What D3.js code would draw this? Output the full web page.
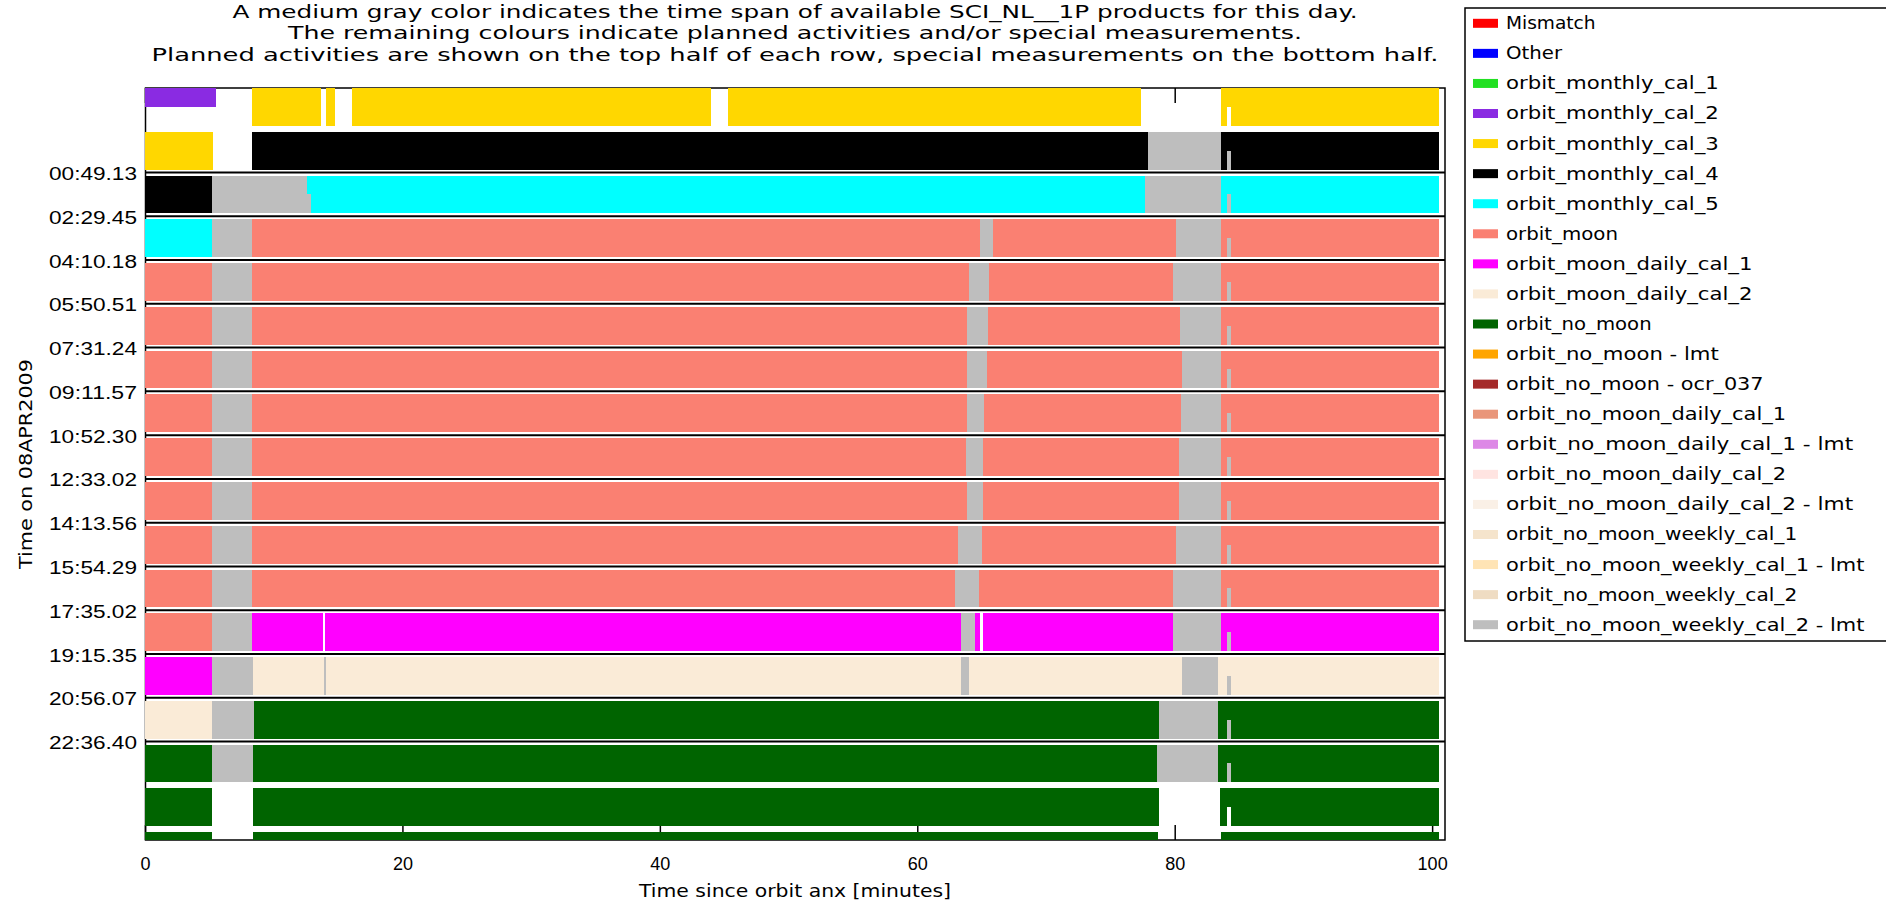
<!DOCTYPE html>
<html>
<head>
<meta charset="utf-8">
<script src="https://cdn.jsdelivr.net/npm/d3@7"></script>
<style>
  body { margin: 0; background: #fff; }
  svg { display: block; font-family: 'DejaVu Sans', sans-serif; }
</style>
</head>
<body>
<svg id="chart" width="1886" height="903"></svg>
<script>
const titleLines = [
    'A medium gray color indicates the time span of available SCI_NL__1P products for this day.',
    'The remaining colours indicate planned activities and/or special measurements.',
    'Planned activities are shown on the top half of each row, special measurements on the bottom half.'
];
const xTitle = 'Time since orbit anx [minutes]';
const yTitle = 'Time on 08APR2009';
const xTicks = [0, 20, 40, 60, 80, 100];
const yTickLabels = ['00:49.13', '02:29.45', '04:10.18', '05:50.51', '07:31.24', '09:11.57', '10:52.30',
    '12:33.02', '14:13.56', '15:54.29', '17:35.02', '19:15.35', '20:56.07', '22:36.40'];

const legendNames = ['Mismatch', 'Other', 'orbit_monthly_cal_1', 'orbit_monthly_cal_2', 'orbit_monthly_cal_3',
    'orbit_monthly_cal_4', 'orbit_monthly_cal_5', 'orbit_moon', 'orbit_moon_daily_cal_1', 'orbit_moon_daily_cal_2',
    'orbit_no_moon', 'orbit_no_moon - lmt', 'orbit_no_moon - ocr_037', 'orbit_no_moon_daily_cal_1',
    'orbit_no_moon_daily_cal_1 - lmt', 'orbit_no_moon_daily_cal_2', 'orbit_no_moon_daily_cal_2 - lmt',
    'orbit_no_moon_weekly_cal_1', 'orbit_no_moon_weekly_cal_1 - lmt', 'orbit_no_moon_weekly_cal_2',
    'orbit_no_moon_weekly_cal_2 - lmt'];
const legendColors = ['#ff0000', '#0000ff', '#22e022', '#8a2be2', '#ffd700', '#000000', '#00ffff', '#fa8072',
    '#ff00ff', '#faebd7', '#006400', '#ffa500', '#a52a2a', '#e9967a', '#dd88e6', '#ffe4e1', '#faf0e6',
    '#f5e4cc', '#ffe4b5', '#efdcc2', '#bebebe'];
const availColor = '#bebebe';

// orbit start times in minutes of the day (first two and last two rows are unlabelled)
const orbitPeriod = 100.57;
const rowStart = [-151.93, -51.36, 49.22, 149.75, 250.30, 350.85, 451.40, 551.95, 652.50, 753.03,
    853.93, 954.48, 1055.03, 1155.58, 1256.12, 1356.67, 1457.24, 1557.81];

const MC2 = 'orbit_monthly_cal_2', MC3 = 'orbit_monthly_cal_3', MC4 = 'orbit_monthly_cal_4',
    MC5 = 'orbit_monthly_cal_5', MOON = 'orbit_moon', MD1 = 'orbit_moon_daily_cal_1',
    MD2 = 'orbit_moon_daily_cal_2', NM = 'orbit_no_moon';

// gray: SCI_NL__1P products available [from, to] in minutes since anx
const availSpans = [
    [],
    [[77.95, 84.35]],
    [[5.2, 12.9], [77.7, 84.35]],
    [[5.2, 8.3], [64.9, 65.9], [80.1, 84.35]],
    [[5.2, 8.3], [64.0, 65.6], [79.9, 84.35]],
    [[5.2, 8.3], [63.9, 65.5], [80.4, 84.35]],
    [[5.2, 8.3], [63.9, 65.4], [80.6, 84.35]],
    [[5.2, 8.3], [63.9, 65.2], [80.5, 84.35]],
    [[5.2, 8.3], [63.8, 65.1], [80.3, 84.35]],
    [[5.2, 8.3], [63.9, 65.1], [80.3, 84.35]],
    [[5.2, 8.3], [63.2, 65.0], [80.1, 84.35]],
    [[5.2, 8.3], [62.9, 64.8], [79.9, 84.35]],
    [[5.2, 8.3], [63.4, 64.5], [79.9, 84.35]],
    [[5.2, 8.4], [13.9, 14.1], [63.4, 64.0], [80.6, 84.35]],
    [[5.2, 8.5], [78.8, 84.35]],
    [[5.2, 8.4], [78.6, 84.35]],
    [],
    []
];

// planned activities (top half of each row)
const plannedSegs = [
    [[0, 5.5, MC2], [8.3, 13.7, MC3], [14.1, 14.8, MC3], [16.1, 44.0, MC3], [45.3, 77.4, MC3], [83.6, 100.57, MC3]],
    [[0, 5.3, MC3], [8.3, 77.95, MC4], [83.58, 100.57, MC4]],
    [[0, 5.2, MC4], [12.6, 77.7, MC5], [83.58, 100.57, MC5]],
    [[0, 5.2, MC5], [8.3, 64.9, MOON], [65.9, 80.1, MOON], [83.58, 100.57, MOON]],
    [[0, 5.2, MOON], [8.3, 64.0, MOON], [65.6, 79.9, MOON], [83.58, 100.57, MOON]],
    [[0, 5.2, MOON], [8.3, 63.9, MOON], [65.5, 80.4, MOON], [83.58, 100.57, MOON]],
    [[0, 5.2, MOON], [8.3, 63.9, MOON], [65.4, 80.6, MOON], [83.58, 100.57, MOON]],
    [[0, 5.2, MOON], [8.3, 63.9, MOON], [65.2, 80.5, MOON], [83.58, 100.57, MOON]],
    [[0, 5.2, MOON], [8.3, 63.8, MOON], [65.1, 80.3, MOON], [83.58, 100.57, MOON]],
    [[0, 5.2, MOON], [8.3, 63.9, MOON], [65.1, 80.3, MOON], [83.58, 100.57, MOON]],
    [[0, 5.2, MOON], [8.3, 63.2, MOON], [65.0, 80.1, MOON], [83.58, 100.57, MOON]],
    [[0, 5.2, MOON], [8.3, 62.9, MOON], [64.8, 79.9, MOON], [83.58, 100.57, MOON]],
    [[0, 5.2, MOON], [8.3, 13.8, MD1], [14.0, 63.4, MD1], [64.5, 64.9, MD1], [65.1, 79.9, MD1], [83.58, 100.57, MD1]],
    [[0, 5.2, MD1], [8.4, 13.9, MD2], [14.1, 63.4, MD2], [64.0, 80.6, MD2], [83.4, 100.57, MD2]],
    [[0, 5.2, MD2], [8.5, 78.8, NM], [83.4, 100.57, NM]],
    [[0, 5.2, NM], [8.4, 78.6, NM], [83.4, 100.57, NM]],
    [[0, 5.2, NM], [8.4, 78.8, NM], [83.5, 100.57, NM]],
    [[0, 5.2, NM], [8.4, 78.7, NM], [83.6, 100.57, NM]]
];

// special measurements (bottom half of each row)
const specialSegs = [
    [[8.3, 13.7, MC3], [14.1, 14.8, MC3], [16.1, 44.0, MC3], [45.3, 77.4, MC3], [83.6, 84.1, MC3], [84.35, 100.57, MC3]],
    [[0, 5.3, MC3], [8.3, 77.95, MC4], [83.58, 84.1, MC4], [84.35, 100.57, MC4]],
    [[0, 5.2, MC4], [12.9, 77.7, MC5], [83.58, 84.1, MC5], [84.35, 100.57, MC5]],
    [[0, 5.2, MC5], [8.3, 64.9, MOON], [65.9, 80.1, MOON], [83.58, 84.1, MOON], [84.35, 100.57, MOON]],
    [[0, 5.2, MOON], [8.3, 64.0, MOON], [65.6, 79.9, MOON], [83.58, 84.1, MOON], [84.35, 100.57, MOON]],
    [[0, 5.2, MOON], [8.3, 63.9, MOON], [65.5, 80.4, MOON], [83.58, 84.1, MOON], [84.35, 100.57, MOON]],
    [[0, 5.2, MOON], [8.3, 63.9, MOON], [65.4, 80.6, MOON], [83.58, 84.1, MOON], [84.35, 100.57, MOON]],
    [[0, 5.2, MOON], [8.3, 63.9, MOON], [65.2, 80.5, MOON], [83.58, 84.1, MOON], [84.35, 100.57, MOON]],
    [[0, 5.2, MOON], [8.3, 63.8, MOON], [65.1, 80.3, MOON], [83.58, 84.1, MOON], [84.35, 100.57, MOON]],
    [[0, 5.2, MOON], [8.3, 63.9, MOON], [65.1, 80.3, MOON], [83.58, 84.1, MOON], [84.35, 100.57, MOON]],
    [[0, 5.2, MOON], [8.3, 63.2, MOON], [65.0, 80.1, MOON], [83.58, 84.1, MOON], [84.35, 100.57, MOON]],
    [[0, 5.2, MOON], [8.3, 62.9, MOON], [64.8, 79.9, MOON], [83.58, 84.1, MOON], [84.35, 100.57, MOON]],
    [[0, 5.2, MOON], [8.3, 13.8, MD1], [14.0, 63.4, MD1], [64.5, 64.9, MD1], [65.1, 79.9, MD1], [83.58, 84.1, MD1], [84.35, 100.57, MD1]],
    [[0, 5.2, MD1], [8.4, 13.9, MD2], [14.1, 63.4, MD2], [64.0, 80.6, MD2], [83.4, 84.1, MD2], [84.35, 100.57, MD2]],
    [[0, 5.2, MD2], [8.5, 78.8, NM], [83.4, 84.1, NM], [84.35, 100.57, NM]],
    [[0, 5.2, NM], [8.4, 78.6, NM], [83.4, 84.1, NM], [84.35, 100.57, NM]],
    [[0, 5.2, NM], [8.4, 78.8, NM], [83.5, 84.1, NM], [84.35, 100.57, NM]],
    [[0, 5.2, NM], [8.4, 78.7, NM], [83.6, 84.1, NM], [84.35, 100.57, NM]]
];

const plot = { left: 145, right: 1445, top: 88, bottom: 840 };
const svg = d3.select('#chart');

const x = d3.scaleLinear().domain([0, 101]).range([plot.left, plot.right]);
// y is minutes of the day, from -0.1 day to 1.1 day
const y = d3.scaleLinear().domain([-144, 1584]).range([plot.top, plot.bottom]);
const color = d3.scaleOrdinal().domain(legendNames).range(legendColors);

function labelToMinutes(s) {
    const [h, rest] = s.split(':');
    const [m, sec] = rest.split('.');
    return (+h) * 60 + (+m) + (+sec) / 60;
}
const yTickVals = yTickLabels.map(labelToMinutes);

// title
svg.append('g').selectAll('text')
    .data(titleLines)
    .enter()
    .append('text')
    .attr('x', (plot.left + plot.right) / 2)
    .attr('y', (d, i) => 17.5 + i * 21.6)
    .attr('text-anchor', 'middle')
    .attr('textLength', (d, i) => [1125, 1014, 1287][i])
    .attr('lengthAdjust', 'spacingAndGlyphs')
    .style('font-size', '18.5px')
    .text(d => d);

// row separators = y ticks drawn across the plot
const yAxis = d3.axisLeft(y)
    .tickValues(yTickVals)
    .tickSize(-(plot.right - plot.left))
    .tickPadding(8)
    .tickFormat((d, i) => yTickLabels[i]);
const gy = svg.append('g')
    .attr('transform', `translate(${plot.left}, 0)`)
    .call(yAxis);
gy.select('.domain').remove();
gy.selectAll('line').attr('stroke', '#000').attr('stroke-width', 2);
gy.selectAll('text')
    .style('font-size', '18px')
    .attr('fill', '#000')
    .attr('dy', '0.42em')
    .attr('textLength', 88)
    .attr('lengthAdjust', 'spacingAndGlyphs');

const gxb = svg.append('g')
    .attr('transform', `translate(0, ${plot.bottom})`)
    .call(d3.axisBottom(x).tickValues(xTicks).tickSize(-15).tickPadding(17));
gxb.select('.domain').remove();
gxb.selectAll('line').attr('stroke', '#000').attr('stroke-width', 1.5);
gxb.selectAll('text').style('font-size', '18px').attr('fill', '#000');

const gxt = svg.append('g')
    .attr('transform', `translate(0, ${plot.top})`)
    .call(d3.axisTop(x).tickValues(xTicks).tickSize(-15).tickFormat(''));
gxt.select('.domain').remove();
gxt.selectAll('line').attr('stroke', '#000').attr('stroke-width', 1.5);

// frame
svg.append('rect')
    .attr('x', plot.left + 0.5)
    .attr('y', plot.top)
    .attr('width', plot.right - plot.left - 0.5)
    .attr('height', plot.bottom - plot.top)
    .attr('fill', 'none')
    .attr('stroke', '#000')
    .attr('stroke-width', 1.5);

// bars
svg.append('clipPath').attr('id', 'plotclip')
    .append('rect')
    .attr('x', plot.left).attr('y', plot.top)
    .attr('width', plot.right - plot.left).attr('height', plot.bottom - plot.top);

const rows = rowStart.map((t, i) => {
    const top = y(t) + 3.5;
    const bot = y(t + orbitPeriod) - 2.5;
    return { top: top, mid: (top + bot) / 2, bot: bot, avail: availSpans[i], planned: plannedSegs[i], special: specialSegs[i] };
});

const barsGroup = svg.append('g')
    .attr('clip-path', 'url(#plotclip)')
    .attr('shape-rendering', 'crispEdges');

const rowG = barsGroup.selectAll('g.row')
    .data(rows)
    .enter()
    .append('g')
    .attr('class', 'row');

rowG.selectAll('rect.avail')
    .data(d => d.avail.map(s => ({ s: s, r: d })))
    .enter()
    .append('rect')
    .attr('class', 'avail')
    .attr('x', d => x(d.s[0]))
    .attr('y', d => d.r.top)
    .attr('width', d => x(d.s[1]) - x(d.s[0]))
    .attr('height', d => d.r.bot - d.r.top)
    .attr('fill', availColor);

rowG.selectAll('rect.planned')
    .data(d => d.planned.map(s => ({ s: s, r: d })))
    .enter()
    .append('rect')
    .attr('class', 'planned')
    .attr('x', d => x(d.s[0]))
    .attr('y', d => d.r.top)
    .attr('width', d => x(d.s[1]) - x(d.s[0]))
    .attr('height', d => d.r.mid - d.r.top)
    .attr('fill', d => color(d.s[2]));

rowG.selectAll('rect.special')
    .data(d => d.special.map(s => ({ s: s, r: d })))
    .enter()
    .append('rect')
    .attr('class', 'special')
    .attr('x', d => x(d.s[0]))
    .attr('y', d => d.r.mid)
    .attr('width', d => x(d.s[1]) - x(d.s[0]))
    .attr('height', d => d.r.bot - d.r.mid)
    .attr('fill', d => color(d.s[2]));

// axis titles
svg.append('text')
    .attr('x', (plot.left + plot.right) / 2)
    .attr('y', 897)
    .attr('text-anchor', 'middle')
    .attr('textLength', 312)
    .attr('lengthAdjust', 'spacingAndGlyphs')
    .style('font-size', '18px')
    .text(xTitle);

svg.append('text')
    .attr('transform', `translate(32, ${(plot.top + plot.bottom) / 2}) rotate(-90)`)
    .attr('text-anchor', 'middle')
    .attr('textLength', 210)
    .attr('lengthAdjust', 'spacingAndGlyphs')
    .style('font-size', '18px')
    .text(yTitle);

// legend
const ly = d3.scalePoint().domain(legendNames).range([23.3, 624.7]);
svg.append('rect')
    .attr('x', 1465).attr('y', 8)
    .attr('width', 500).attr('height', 633)
    .attr('fill', '#fff')
    .attr('stroke', '#000')
    .attr('stroke-width', 1.5);

const legendG = svg.append('g');
legendG.selectAll('rect')
    .data(legendNames)
    .enter()
    .append('rect')
    .attr('x', 1473)
    .attr('y', d => ly(d) - 4.5)
    .attr('width', 25)
    .attr('height', 9)
    .attr('fill', d => color(d));
legendG.selectAll('text')
    .data(legendNames)
    .enter()
    .append('text')
    .attr('x', 1506)
    .attr('y', d => ly(d))
    .attr('dy', '0.35em')
    .attr('textLength', d => d.length * 11.2)
    .attr('lengthAdjust', 'spacingAndGlyphs')
    .style('font-size', '17px')
    .text(d => d);
</script>
</body>
</html>
